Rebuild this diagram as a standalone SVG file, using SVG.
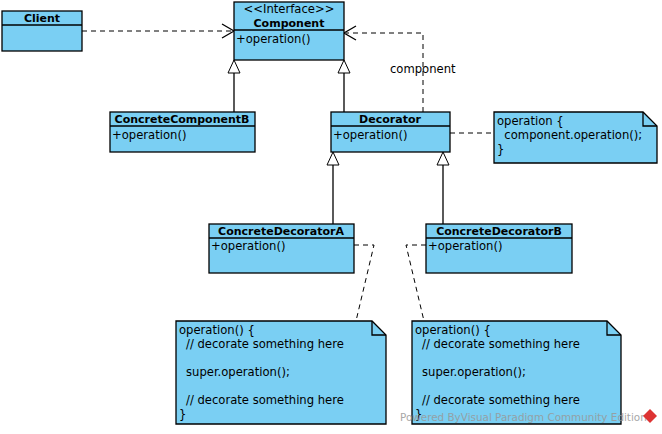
<svg xmlns="http://www.w3.org/2000/svg" width="662" height="434" viewBox="0 0 662 434">
<style>
.b{fill:#7ACFF3;stroke:#000;stroke-width:1.3}
.l{stroke:#000;stroke-width:1.3;fill:none}
.d{stroke:#000;stroke-width:1;fill:none;stroke-dasharray:5,4}
text{font-family:"DejaVu Sans",sans-serif;font-size:11.6px;fill:#000}
.t{font-weight:bold;text-anchor:middle;font-size:11px}
</style>
<rect width="662" height="434" fill="#fff"/>
<g id="connectors">
<path class="d" d="M82,31 H232"/><path class="l" d="M222,24 L234,31 L222,38"/>
<path class="d" d="M423,112 V33 H346"/><path class="l" d="M356,26 L344,33 L356,40"/>
<text x="390" y="73">component</text>
<path class="l" d="M234,112 V73"/><path d="M234,60 L228,73 H240 Z" fill="#fff" stroke="#000"/>
<path class="l" d="M344,112 V73"/><path d="M344,60 L338,73 H350 Z" fill="#fff" stroke="#000"/>
<path class="l" d="M333,224 V165"/><path d="M333,152 L327,165 H339 Z" fill="#fff" stroke="#000"/>
<path class="l" d="M443,224 V165"/><path d="M443,152 L437,165 H449 Z" fill="#fff" stroke="#000"/>
<path class="d" d="M450,133 H494"/>
<path class="d" d="M354,245 H374 L356,321"/>
<path class="d" d="M426,245 H406 L424,321"/>
</g>
<g id="client"><rect class="b" x="2" y="11" width="80" height="40"/><path class="l" d="M2,25 H82"/><text class="t" x="42" y="22">Client</text></g>
<g id="component"><rect class="b" x="234" y="2" width="110" height="58"/><path class="l" d="M234,30 H344"/><text x="289" y="13" text-anchor="middle">&lt;&lt;Interface&gt;&gt;</text><text class="t" x="289" y="27">Component</text><text x="236" y="43">+operation()</text></g>
<g id="ccb"><rect class="b" x="110" y="112" width="145" height="40"/><path class="l" d="M110,126 H255"/><text class="t" x="182" y="123">ConcreteComponentB</text><text x="112" y="139">+operation()</text></g>
<g id="decorator"><rect class="b" x="331" y="112" width="119" height="40"/><path class="l" d="M331,126 H450"/><text class="t" x="390" y="123">Decorator</text><text x="333" y="139">+operation()</text></g>
<g id="note1"><path class="b" d="M494,112 H643 L657,126 V163 H494 Z"/><path class="l" d="M643,112 V126 H657"/><text x="497" y="125">operation {</text><text x="497" y="139" xml:space="preserve">  component.operation();</text><text x="497" y="153">}</text></g>
<g id="cda"><rect class="b" x="209" y="224" width="145" height="49"/><path class="l" d="M209,238 H354"/><text class="t" x="281" y="235">ConcreteDecoratorA</text><text x="211" y="250">+operation()</text></g>
<g id="cdb"><rect class="b" x="426" y="224" width="146" height="49"/><path class="l" d="M426,238 H572"/><text class="t" x="499" y="235">ConcreteDecoratorB</text><text x="428" y="250">+operation()</text></g>
<g id="noteA"><path class="b" d="M176,321 H372 L386,335 V424 H176 Z"/><path class="l" d="M372,321 V335 H386"/>
<text x="179" y="334">operation() {</text><text x="186" y="348">// decorate something here</text><text x="186" y="376">super.operation();</text><text x="186" y="404">// decorate something here</text><text x="179" y="418">}</text></g>
<g id="noteB"><path class="b" d="M412,321 H607 L621,335 V424 H412 Z"/><path class="l" d="M607,321 V335 H621"/>
<text x="415" y="334">operation() {</text><text x="422" y="348">// decorate something here</text><text x="422" y="376">super.operation();</text><text x="422" y="404">// decorate something here</text><text x="415" y="418">}</text></g>
<g id="watermark"><text x="400" y="421" style="fill:#999;font-size:10.4px;opacity:0.85">Powered ByVisual Paradigm Community Edition</text>
<path d="M650,409 L657,416 L650,423 L643,416 Z" fill="#d33"/></g>
</svg>
